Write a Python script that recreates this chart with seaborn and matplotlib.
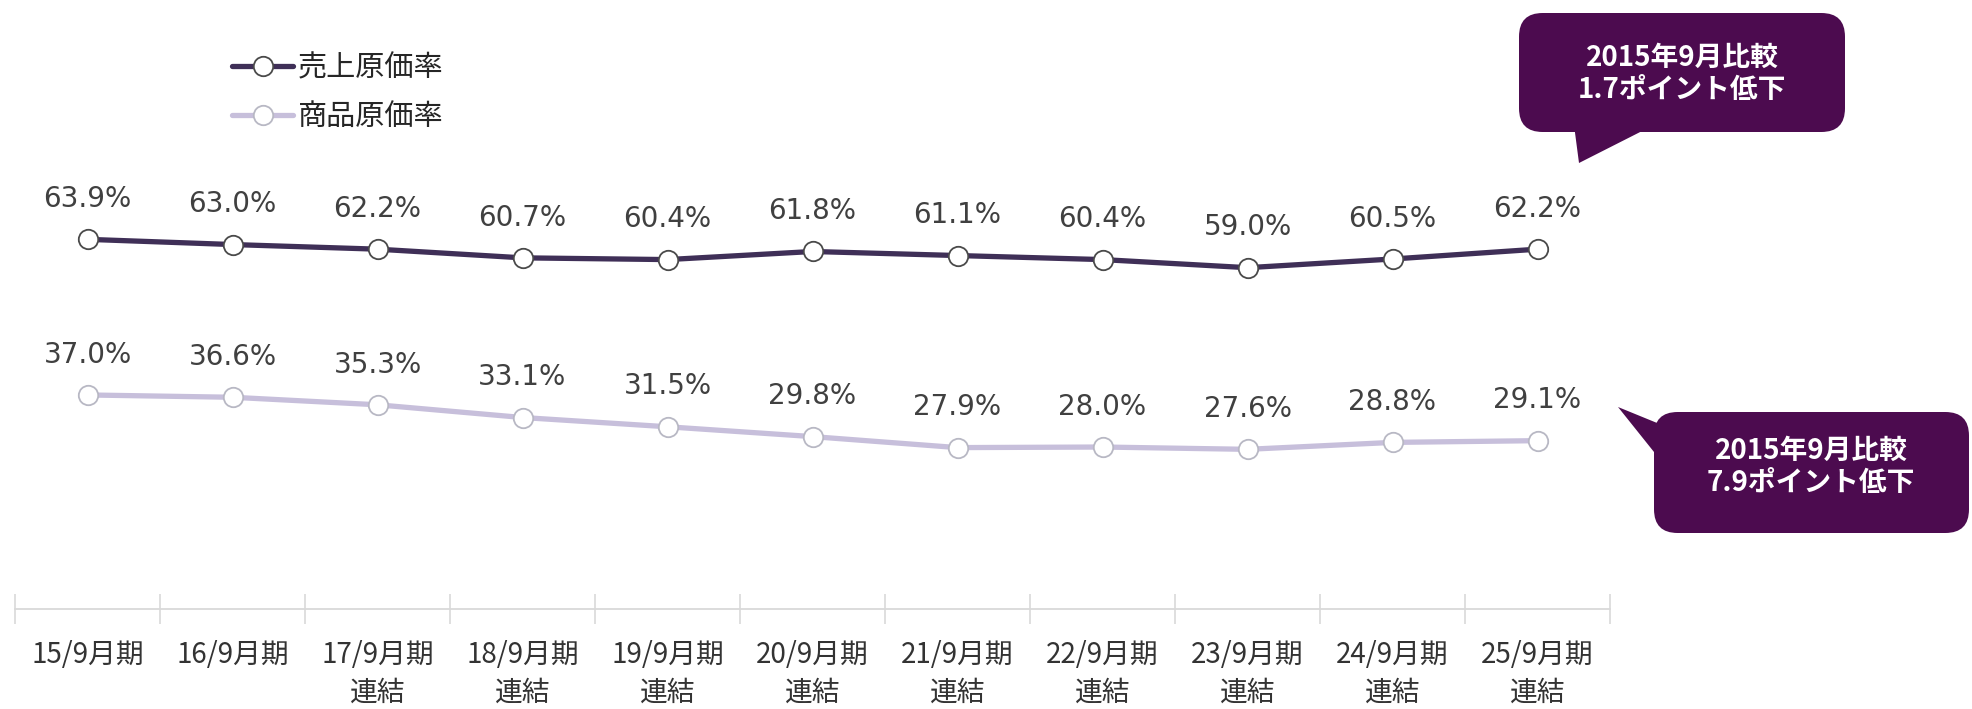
import numpy as np
import pandas as pd
import matplotlib.pyplot as plt
import seaborn as sns
from matplotlib.patches import FancyBboxPatch, Polygon
from matplotlib.lines import Line2D

periods = ['15/9月期', '16/9月期', '17/9月期\n連結', '18/9月期\n連結', '19/9月期\n連結',
           '20/9月期\n連結', '21/9月期\n連結', '22/9月期\n連結', '23/9月期\n連結',
           '24/9月期\n連結', '25/9月期\n連結']
cost_of_sales = [63.9, 63.0, 62.2, 60.7, 60.4, 61.8, 61.1, 60.4, 59.0, 60.5, 62.2]
product_cost = [37.0, 36.6, 35.3, 33.1, 31.5, 29.8, 27.9, 28.0, 27.6, 28.8, 29.1]
series_names = ['売上原価率', '商品原価率']
callout_texts = ['2015年9月比較\n1.7ポイント低下', '2015年9月比較\n7.9ポイント低下']

dark = '#3f2f57'
light = '#c7bfdb'
plum = '#4c0b4f'

sns.set_theme(style='white')
plt.rcParams['font.family'] = ['Noto Sans CJK JP', 'DejaVu Sans']

W, H = 1972, 709
fig = plt.figure(figsize=(W / 100, H / 100), dpi=100)
ax = fig.add_axes([15 / W, (H - 609) / H, (1610 - 15) / W, 609 / H])

x = np.arange(len(periods))
df = pd.DataFrame({'x': np.concatenate([x, x]),
                   'rate': cost_of_sales + product_cost,
                   'series': np.repeat(series_names, len(periods))})

edge = {series_names[0]: '#4a4a4a', series_names[1]: '#b8b8c4'}
for name, col in zip(series_names, [dark, light]):
    sub = df[df['series'] == name]
    sns.lineplot(data=sub, x='x', y='rate', ax=ax, color=col, linewidth=3.8,
                 marker='o', markersize=14, markerfacecolor='white',
                 markeredgecolor=edge[name], markeredgewidth=1.3, legend=False)
    for xi, v in zip(sub['x'], sub['rate']):
        ax.annotate(f'{v:.1f}%', (xi, v), xytext=(0, 29), textcoords='offset points',
                    ha='center', va='center', fontsize=20, color='#404040',
                    family='DejaVu Sans')

ax.set_xlim(-0.5, len(periods) - 0.5)
ax.set_ylim(0, 609 / 5.785)
ax.set_xlabel('')
ax.set_ylabel('')
ax.set_yticks([])
ax.set_xticks(x)
ax.set_xticklabels(periods, fontsize=20, color='#333333', linespacing=1.36)
ax.set_xticks(np.arange(-0.5, len(periods)), minor=True)
ax.tick_params(axis='x', which='major', length=0, pad=22)
ax.tick_params(axis='x', which='minor', direction='inout', length=22,
               color='#d9d9d9', width=1.2, bottom=True)
for s in ['top', 'left', 'right']:
    ax.spines[s].set_visible(False)
ax.spines['bottom'].set_color('#d9d9d9')
ax.spines['bottom'].set_linewidth(1.3)

handles = [Line2D([], [], color=c, linewidth=3.8, marker='o', markersize=14,
                  markerfacecolor='white', markeredgecolor=edge[n], markeredgewidth=1.3)
           for n, c in zip(series_names, [dark, light])]
fig.legend(handles, series_names, loc='upper left', bbox_to_anchor=(232 / W, 1 - 53 / H),
           frameon=False, fontsize=21, handlelength=2.1, handletextpad=0.15,
           labelspacing=0.65, numpoints=1, borderaxespad=0, borderpad=0)


def px(a, b):
    return (a / W, 1 - b / H)


def callout(x0, y0, x1, y1, tail, text, tx, ty):
    box = FancyBboxPatch(px(x0, y1), (x1 - x0) / W, (y1 - y0) / H,
                         boxstyle='round,pad=0,rounding_size=0.012',
                         transform=fig.transFigure, facecolor=plum, edgecolor='none',
                         mutation_aspect=W / H)
    fig.patches.append(box)
    fig.patches.append(Polygon([px(*p) for p in tail], closed=True,
                               transform=fig.transFigure, facecolor=plum, edgecolor='none'))
    fig.text(*px(tx, ty), text, ha='center', va='center', color='white',
             fontsize=20, fontweight='bold', linespacing=1.2)


callout(1519, 13, 1845, 132, [(1574, 125), (1654, 125), (1579, 163)],
        callout_texts[0], 1682, 74)
callout(1654, 412, 1969, 533, [(1662, 425), (1662, 462), (1618, 407)],
        callout_texts[1], 1811, 467)

fig.savefig('out.png', dpi=100)
